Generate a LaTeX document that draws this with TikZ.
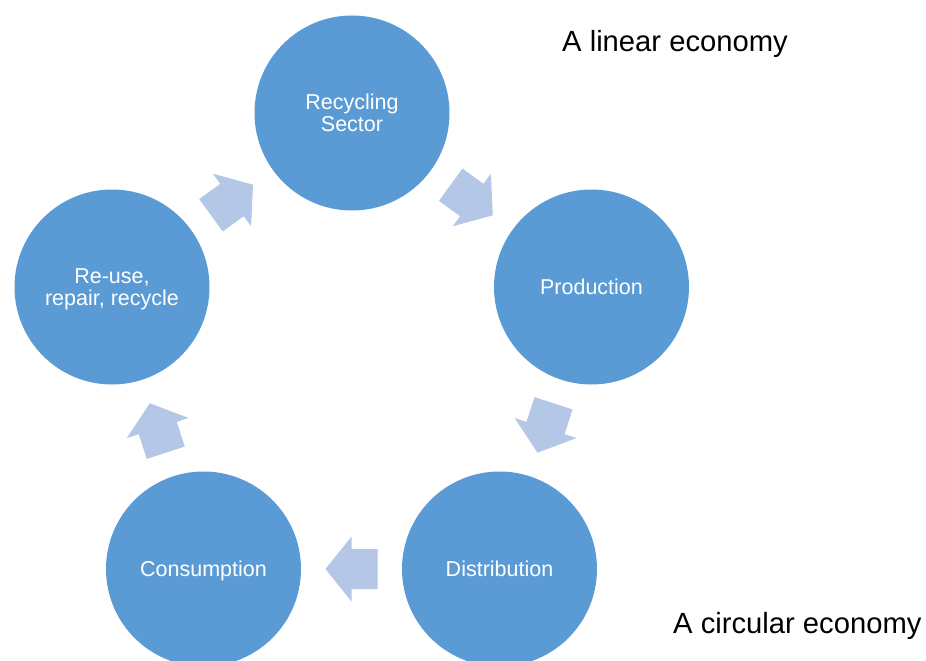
\documentclass[tikz,border=0pt]{standalone}
\usepackage{fontspec}
\setmainfont{Liberation Sans}
\usetikzlibrary{calc}
\definecolor{circblue}{HTML}{5B9BD5}
\definecolor{arrblue}{HTML}{B4C7E7}
\newcommand\capstrut{\rule{0pt}{19.5pt}}
\newcommand\descstrut{\rule[-4.6pt]{0pt}{4.6pt}}
\tikzset{
  stage/.style={circle, fill=circblue, draw=none, minimum size=195pt, inner sep=0pt,
    text=white, align=center, font=\fontsize{21.5}{22}\selectfont},
  title/.style={anchor=base west, inner sep=0pt, text=black, font=\fontsize{29.2}{31}\selectfont},
  blockarrow/.pic={
    \fill[arrblue] (-26,-20) -- (0,-20) -- (0,-32.5) -- (26,0) -- (0,32.5) -- (0,20) -- (-26,20) -- cycle;
  }
}
\begin{document}
\begin{tikzpicture}[x=1pt,y=-1pt]
\useasboundingbox (0,0) rectangle (926,661);
\node[stage] (rec)  at (352,113)   {\capstrut Recycling\\Sector\descstrut};
\node[stage] (prod) at (591.5,287) {\capstrut Production\descstrut};
\node[stage] (dist) at (499.5,569) {\capstrut Distribution\descstrut};
\node[stage] (cons) at (203.5,569) {\capstrut Consumption\descstrut};
\node[stage] (reuse) at (112,287)  {\capstrut Re-use,\\repair, recycle\descstrut};
\pic[rotate=-36]  at ($(rec)!0.5!(prod)$)   {blockarrow};
\pic[rotate=-108] at ($(prod)!0.5!(dist)$)  {blockarrow};
\pic[rotate=180]  at ($(dist)!0.5!(cons)$)  {blockarrow};
\pic[rotate=108]  at ($(cons)!0.5!(reuse)$) {blockarrow};
\pic[rotate=36]   at ($(reuse)!0.5!(rec)$)  {blockarrow};
\node[title] (lin) at (562,52)  {A linear economy};
\node[title] (circ) at (673,633.5) {A circular economy};
\end{tikzpicture}
\end{document}
